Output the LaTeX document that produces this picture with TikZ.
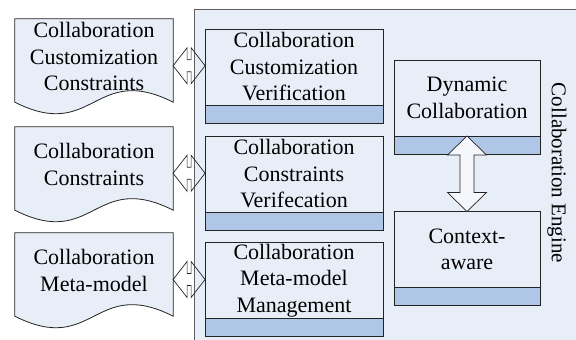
\documentclass[tikz,border=0pt]{standalone}
\usepackage{fontspec}
\setmainfont{Liberation Serif}
\usepackage{tikz}
\usetikzlibrary{positioning, calc, backgrounds}
\definecolor{paleblue}{RGB}{232, 238, 248}
\definecolor{barblue}{RGB}{176, 198, 230}
\definecolor{framegray}{RGB}{95, 95, 95}
\definecolor{edgeblack}{RGB}{35, 35, 35}

\tikzset{
  txt/.style={font=\fontsize{22}{26.5}\selectfont, align=center},
  docnode/.style={txt, minimum width=158pt, minimum height=75pt, inner sep=0pt},
  docshape/.style={fill=paleblue, draw=edgeblack, line width=0.8pt},
  modbox/.style={txt, fill=paleblue, draw=edgeblack, line width=0.8pt, outer sep=0pt,
                 minimum width=178pt, minimum height=76pt, inner sep=0pt},
  modbar/.style={fill=barblue, draw=edgeblack, line width=0.8pt, outer sep=0pt,
                 minimum width=178pt, minimum height=18pt, inner sep=0pt},
  ctxbox/.style={modbox, minimum width=146pt},
  ctxbar/.style={modbar, minimum width=146pt},
  linkarrow/.style={draw=edgeblack, line width=0.7pt},
  blockarrow/.style={fill=paleblue!45!white, draw=edgeblack, line width=0.7pt}
}

\begin{document}
\begin{tikzpicture}[x=1pt, y=1pt]
            \useasboundingbox (0,0) rectangle (576,340);
            % engine area
            \fill[paleblue] (194,-2) rectangle (578,330);
            \draw[framegray, line width=1pt] (194,-2) -- (194,330) -- (578,330);
            \node[txt, font=\fontsize{21}{25}\selectfont, rotate=-90] (engine) at (557,167) {Collaboration Engine};

            % documents
            \node[docnode] (custdoc) at (94,283.5) {Collaboration\\Customization\\Constraints};
            \node[docnode] (consdoc) at (94,175.5) {Collaboration\\Constraints};
            \node[docnode] (metadoc) at (94,69.5) {Collaboration\\Meta-model};
            \begin{scope}[on background layer]
                \draw[docshape] (custdoc.north west) -- (custdoc.north east) -- ($(custdoc.south east)+(0,-8)$)
                    .. controls ($(custdoc.south)+(0,32)$) and ($(custdoc.south)+(0,-48)$) .. ($(custdoc.south west)+(0,-8)$) -- cycle;
                \draw[docshape] (consdoc.north west) -- (consdoc.north east) -- ($(consdoc.south east)+(0,-8)$)
                    .. controls ($(consdoc.south)+(0,32)$) and ($(consdoc.south)+(0,-48)$) .. ($(consdoc.south west)+(0,-8)$) -- cycle;
                \draw[docshape] (metadoc.north west) -- (metadoc.north east) -- ($(metadoc.south east)+(0,-8)$)
                    .. controls ($(metadoc.south)+(0,32)$) and ($(metadoc.south)+(0,-48)$) .. ($(metadoc.south west)+(0,-8)$) -- cycle;
            \end{scope}

            % modules
            \node[modbox] (custver) at (294,273) {Collaboration\\Customization\\Verification};
            \node[modbar, below=0pt of custver] (custverbar) {};
            \node[modbox] (consver) at (294,166) {Collaboration\\Constraints\\Verifecation};
            \node[modbar, below=0pt of consver] (consverbar) {};
            \node[modbox] (metamgmt) at (294,59.5) {Collaboration\\Meta-model\\Management};
            \node[modbar, below=0pt of metamgmt] (metamgmtbar) {};

            \node[ctxbox] (dyncollab) at (467,242) {Dynamic\\Collaboration};
            \node[ctxbar, below=0pt of dyncollab] (dyncollabbar) {};
            \node[ctxbox] (ctxaware) at (467,90.5) {Context-\\aware};
            \node[ctxbar, below=0pt of ctxaware] (ctxawarebar) {};

            % left-right links
            \coordinate (custlink) at ($(custdoc.east)!0.5!(custver.west)+(0,-4)$);
            \coordinate (conslink) at ($(consdoc.east)!0.5!(consver.west)+(0,-4)$);
            \coordinate (metalink) at ($(metadoc.east)!0.5!(metamgmt.west)+(0,-4)$);
            \draw[linkarrow] ($(custlink)+(-16,0)$) -- ++(14,18) -- ++(0,-12) -- ++(4,0) -- ++(0,12) -- ++(14,-18)
                -- ++(-14,-18) -- ++(0,12) -- ++(-4,0) -- ++(0,-12) -- cycle;
            \draw[linkarrow] ($(conslink)+(-16,0)$) -- ++(14,18) -- ++(0,-12) -- ++(4,0) -- ++(0,12) -- ++(14,-18)
                -- ++(-14,-18) -- ++(0,12) -- ++(-4,0) -- ++(0,-12) -- cycle;
            \draw[linkarrow] ($(metalink)+(-16,0)$) -- ++(14,18) -- ++(0,-12) -- ++(4,0) -- ++(0,12) -- ++(14,-18)
                -- ++(-14,-18) -- ++(0,12) -- ++(-4,0) -- ++(0,-12) -- cycle;

            % up-down block arrow
            \draw[blockarrow] (dyncollabbar.north) -- ++(19.5,-19) -- ++(-12.5,0) -- ($(ctxaware.north)+(7,19)$)
                -- ++(12.5,0) -- (ctxaware.north) -- ++(-19.5,19) -- ++(12.5,0) -- ($(dyncollabbar.north)+(-7,-19)$)
                -- ++(-12.5,0) -- cycle;
\end{tikzpicture}
\end{document}
